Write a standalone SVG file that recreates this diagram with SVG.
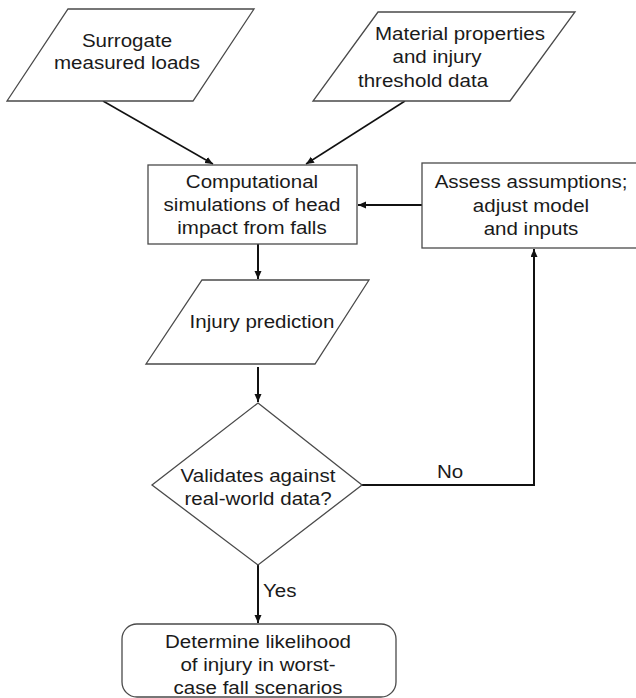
<svg xmlns="http://www.w3.org/2000/svg" width="636" height="698" viewBox="0 0 636 698">
<style>
.shape{fill:#fff;stroke:#4a4a4a;stroke-width:1.3}
.lbl{font-family:"Liberation Sans",Arial,sans-serif;font-size:18.5px;fill:#1a1a1a;text-anchor:middle}
.start{text-anchor:start}
.conn{fill:none;stroke:#111;stroke-width:2}
.thin{stroke-width:1.5}
</style>
<defs>
<marker id="ah" markerUnits="userSpaceOnUse" markerWidth="9" markerHeight="8" refX="8" refY="3.5" orient="auto">
<path d="M0,0 L8,3.5 L0,7 z" fill="#111"/>
</marker>
</defs>
<rect width="636" height="698" fill="#fff"/>

<g id="connectors">
<line class="conn thin" x1="103" y1="101" x2="213" y2="164" marker-end="url(#ah)"/>
<line class="conn thin" x1="405" y1="101" x2="306" y2="164" marker-end="url(#ah)"/>
<line class="conn" x1="422" y1="205" x2="358" y2="205" marker-end="url(#ah)"/>
<line class="conn" x1="258" y1="244" x2="258" y2="279" marker-end="url(#ah)"/>
<line class="conn" x1="258" y1="367" x2="258" y2="402" marker-end="url(#ah)"/>
<polyline class="conn" points="362,485 534,485 534,249" marker-end="url(#ah)"/>
<line class="conn" x1="258" y1="565" x2="258" y2="623" marker-end="url(#ah)"/>
<text class="lbl" transform="matrix(1.11 0 0 1 450 0)"><tspan x="0" y="478">No</tspan></text>
<text class="lbl start" transform="matrix(1.11 0 0 1 263 0)"><tspan x="0" y="597">Yes</tspan></text>
</g>

<g id="surrogate">
<polygon class="shape" points="68,9 254,9 193,101 7,101"/>
<text class="lbl" transform="matrix(1.11 0 0 1 127 0)"><tspan x="0" y="47">Surrogate</tspan><tspan x="0" y="69">measured loads</tspan></text>
</g>

<g id="material">
<polygon class="shape" points="378,12 575,12 510,101 313,101"/>
<text class="lbl" transform="matrix(1.11 0 0 1 437 0)"><tspan x="20.7" y="40">Material properties</tspan><tspan x="0" y="63">and injury</tspan><tspan x="-12.6" y="87">threshold data</tspan></text>
</g>

<g id="simulation">
<rect class="shape" x="148" y="165" width="209" height="79"/>
<text class="lbl" transform="matrix(1.11 0 0 1 252 0)"><tspan x="0" y="188">Computational</tspan><tspan x="0" y="211">simulations of head</tspan><tspan x="0" y="234">impact from falls</tspan></text>
</g>

<g id="assess">
<rect class="shape" x="422" y="163" width="220" height="85"/>
<text class="lbl" transform="matrix(1.11 0 0 1 531 0)"><tspan x="0" y="188">Assess assumptions;</tspan><tspan x="0" y="212">adjust model</tspan><tspan x="0" y="235">and inputs</tspan></text>
</g>

<g id="prediction">
<polygon class="shape" points="202,280 369,280 315,364 146,364"/>
<text class="lbl" transform="matrix(1.11 0 0 1 262 0)"><tspan x="0" y="328">Injury prediction</tspan></text>
</g>

<g id="validate">
<polygon class="shape" points="258,403 362,485 258,565 152,485"/>
<text class="lbl" transform="matrix(1.11 0 0 1 258 0)"><tspan x="0" y="482">Validates against</tspan><tspan x="0" y="505">real-world data?</tspan></text>
</g>

<g id="determine">
<rect class="shape" x="122" y="624" width="274" height="73" rx="15" ry="15"/>
<text class="lbl" transform="matrix(1.11 0 0 1 258 0)"><tspan x="0" y="648">Determine likelihood</tspan><tspan x="0" y="671">of injury in worst-</tspan><tspan x="0" y="694">case fall scenarios</tspan></text>
</g>
</svg>
